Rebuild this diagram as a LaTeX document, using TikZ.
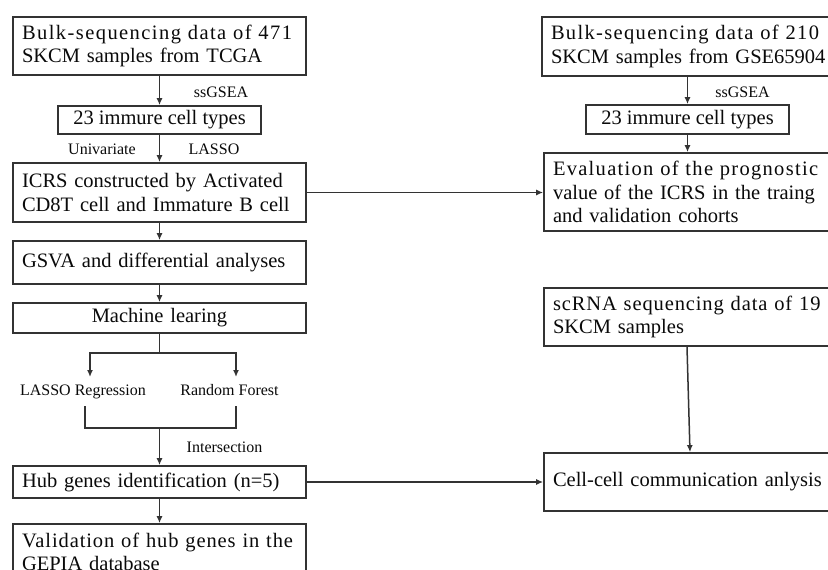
\documentclass[tikz,border=0pt]{standalone}
\usepackage{fontspec}
\setmainfont{Liberation Serif}
\usetikzlibrary{arrows.meta}
\definecolor{ln}{HTML}{333333}
\definecolor{tx}{HTML}{0A0A0A}
\newcommand\lsp[3]{{\addfontfeatures{LetterSpace=#1}\makebox[#2][s]{#3}}}
\newcommand\jst[2]{\makebox[#1][s]{#2}}
\begin{document}
\begin{tikzpicture}[x=1pt,y=-1pt,
  box/.style={draw=ln, line width=1.7pt, rectangle, inner xsep=9pt, inner ysep=0pt,
    text=tx, font=\fontsize{20.5}{23.5}\selectfont, align=left},
  lbox/.style={box, minimum width=293pt, text width=275pt},
  rbox/.style={box, minimum width=296pt, text width=278pt},
  sbox/.style={box, minimum width=203pt, align=center},
  lab/.style={text=tx, font=\fontsize{16}{18}\selectfont, inner sep=0pt, anchor=base},
  lnk/.style={draw=ln, line width=1.5pt},
  arr/.style={lnk, -{Latex[length=7pt, width=6pt]}}
]
\fill[white] (0,0) rectangle (828,570);
\useasboundingbox (0,0) rectangle (828,570);
\clip (0,0) rectangle (828,570);

% left column
\node[lbox, minimum height=58pt] (A) at (159.5,46) {\lsp{7}{275pt}{Bulk-sequencing data of 471}\\SKCM samples from TCGA};
\node[sbox, minimum height=28pt] (B) at (159.5,120) {23 immure cell types};
\node[lbox, minimum height=59pt] (C) at (159.5,192.5) {\jst{275pt}{ICRS constructed by Activated}\\CD8T cell and Immature B cell};
\node[lbox, minimum height=43pt] (D) at (159.5,262.5) {GSVA and differential analyses};
\node[lbox, minimum height=30pt, align=center] (M) at (159.5,318) {Machine learing};
\node[lbox, minimum height=32pt] (H) at (159.5,482) {Hub genes identification (n=5)};
\node[lbox, minimum height=56pt] (V) at (159.5,552) {\lsp{4.4}{275pt}{Validation of hub genes in the}\\GEPIA database};

% right column
\node[box, minimum width=298pt, text width=280pt, minimum height=59pt] (E) at (691,46.5) {\lsp{6.5}{272pt}{Bulk-sequencing data of 210}\\SKCM samples from GSE65904};
\node[sbox, minimum height=29pt] (F) at (687.5,119.5) {23 immure cell types};
\node[rbox, minimum height=78pt] (G) at (692,192) {\lsp{6.3}{269pt}{Evaluation of the prognostic}\\\jst{268pt}{value of the ICRS in the traing}\\and validation cohorts};
\node[rbox, minimum height=58pt] (S) at (692,317) {\lsp{4.3}{269pt}{scRNA sequencing data of 19}\\SKCM samples};
\node[rbox, minimum height=58pt] (CC) at (692,482) {Cell-cell communication anlysis};

% labels
\node[lab] (l1) at (221,97) {ssGSEA};
\node[lab] (l2) at (102,154) {Univariate};
\node[lab] (l3) at (214,154) {LASSO};
\node[lab] (l4) at (83,395) {LASSO Regression};
\node[lab] (l5) at (229.5,395) {Random Forest};
\node[lab] (l6) at (224.5,452) {Intersection};
\node[lab] (l7) at (742.5,97) {ssGSEA};

% connectors
\draw[arr] (A) -- (B);
\draw[arr] (B) -- (C);
\draw[arr] (C) -- (D);
\draw[arr] (D) -- (M);
\coordinate (sp) at (159.5,353);
\coordinate (la) at (90,377);
\coordinate (ra) at (236,377);
\draw[lnk] (M.south) -- (sp);
\draw[arr] (sp) -| (la);
\draw[arr] (sp) -| (ra);
\coordinate (bl) at (85,406);
\coordinate (br) at (236,406);
\coordinate (bm) at (159.5,428);
\draw[lnk] (bl) |- (bm) -| (br);
\draw[arr] (bm) -- (H);
\draw[arr] (H) -- (V);
\draw[arr] (C.east) -- (C.east -| G.west);
\draw[arr] (H.east) -- (H.east -| CC.west);
\draw[arr] (F.north |- E.south) -- (F.north);
\draw[arr] (F) -- (F.south |- G.north);
\draw[arr] ([xshift=-5pt]S.south) -- ([xshift=-2pt]CC.north);
\end{tikzpicture}
\end{document}
